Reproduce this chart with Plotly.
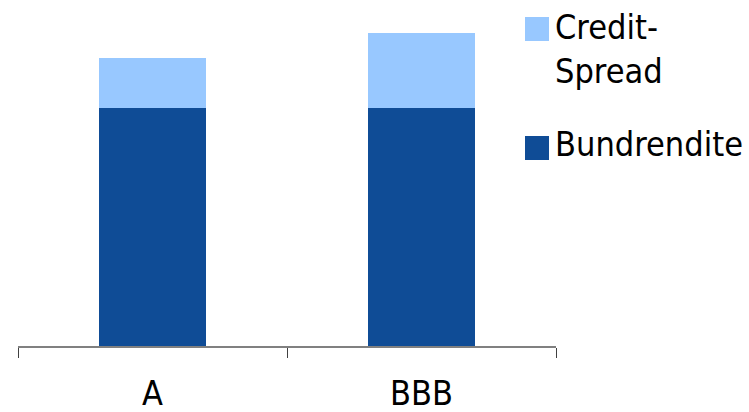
import plotly.graph_objects as go

categories = ["A", "BBB"]
bundrendite = [3.8, 3.8]
credit_spread = [0.8, 1.2]

dark = "#0F4C96"
light = "#98C8FF"
font_family = "DejaVu Sans Condensed, DejaVu Sans, sans-serif"

fig = go.Figure()
fig.add_trace(go.Bar(x=categories, y=bundrendite, name="Bundrendite",
                     marker=dict(color=dark, line=dict(width=0)), width=0.4, showlegend=False))
fig.add_trace(go.Bar(x=categories, y=credit_spread, name="Credit-Spread",
                     marker=dict(color=light, line=dict(width=0)), width=0.4, showlegend=False))

T, H, L, W = 10, 336, 18, 538
def px_x(p):
    return (p - L) / W
def px_y(p):
    return 1 - (p - T) / H

# custom legend (large square swatches)
legend_items = [("Credit-<br>Spread", light, 17, 5), ("Bundrendite", dark, 136, 122)]
for label, col, sw_top, txt_top in legend_items:
    fig.add_shape(type="rect", xref="paper", yref="paper",
                  x0=px_x(525), x1=px_x(549),
                  y0=px_y(sw_top + 24), y1=px_y(sw_top),
                  fillcolor=col, line=dict(width=0))
    fig.add_annotation(xref="paper", yref="paper", x=px_x(553), y=px_y(txt_top),
                       text=label, showarrow=False, xanchor="left", yanchor="top",
                       align="left", font=dict(size=34, color="black", family=font_family))

fig.update_layout(
    width=749, height=412,
    margin=dict(l=L, r=749 - L - W, t=T, b=412 - T - H, autoexpand=False),
    barmode="stack",
    plot_bgcolor="white", paper_bgcolor="white",
    font=dict(family=font_family, size=34, color="black"),
    showlegend=False,
)
fig.update_xaxes(showline=True, linecolor="#808080", linewidth=1.5,
                 ticks="outside", tickson="boundaries", ticklen=10,
                 tickcolor="#404040", tickwidth=1, showgrid=False,
                 ticklabelstandoff=16, automargin=False,
                 tickfont=dict(size=34), range=[-0.5, 1.5])
fig.update_yaxes(visible=False, range=[0, H / 62.6], showgrid=False, automargin=False)

fig.write_html("out.html")
